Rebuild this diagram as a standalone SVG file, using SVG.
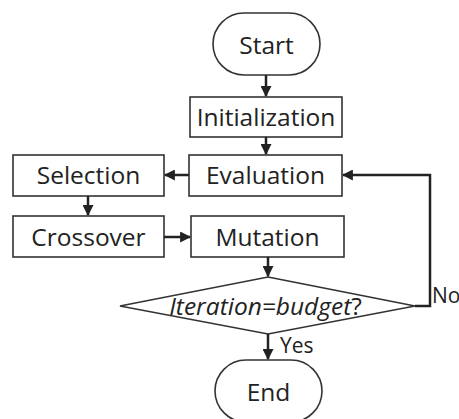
<svg xmlns="http://www.w3.org/2000/svg" width="459" height="419" viewBox="0 0 459 419">
<defs>
<style>
.box{fill:#fff;stroke:#333;stroke-width:1.6}
.t{font-family:"Open Sans","Noto Sans",sans-serif;font-size:24.5px;fill:#222;text-anchor:middle}
.s{font-family:"Open Sans","Noto Sans",sans-serif;font-size:21px;fill:#222;text-anchor:start}
.c{fill:none;stroke:#222;stroke-width:2.5}
</style>
<marker id="ah" viewBox="0 0 10 10" refX="9" refY="5" markerWidth="4.4" markerHeight="4.4" orient="auto" markerUnits="strokeWidth">
<path d="M0,0 L10,5 L0,10 z" fill="#222"/>
</marker>
</defs>
<rect width="459" height="419" fill="#fff"/>
<g id="start"><rect class="box" x="213" y="13" width="107" height="62" rx="31"/><text class="t" x="266.5" y="54">Start</text></g>
<g id="init"><rect class="box" x="190" y="97" width="152" height="40"/><text class="t" x="266" y="126">Initialization</text></g>
<g id="eval"><rect class="box" x="189" y="155" width="153" height="41"/><text class="t" x="265.5" y="184">Evaluation</text></g>
<g id="sel"><rect class="box" x="13" y="155" width="151" height="41"/><text class="t" x="88.5" y="184">Selection</text></g>
<g id="cross"><rect class="box" x="13" y="216" width="151" height="41"/><text class="t" x="88.5" y="245.5">Crossover</text></g>
<g id="mut"><rect class="box" x="191" y="216" width="153" height="41"/><text class="t" x="267.5" y="245.5">Mutation</text></g>
<g id="cond"><polygon class="box" points="268,277 415,306 268,334 120,306"/><text class="t" x="265.5" y="315"><tspan font-style="italic">Iteration=budget</tspan>?</text></g>
<g id="end"><rect class="box" x="215" y="360" width="107" height="62" rx="31"/><text class="t" x="268.5" y="401">End</text></g>
<g id="connectors">
<line class="c" x1="266" y1="75" x2="266" y2="96" marker-end="url(#ah)"/>
<line class="c" x1="266" y1="137" x2="266" y2="154" marker-end="url(#ah)"/>
<line class="c" x1="189" y1="175" x2="165" y2="175" marker-end="url(#ah)"/>
<line class="c" x1="88" y1="196" x2="88" y2="215" marker-end="url(#ah)"/>
<line class="c" x1="164" y1="237" x2="190" y2="237" marker-end="url(#ah)"/>
<line class="c" x1="268" y1="257" x2="268" y2="276" marker-end="url(#ah)"/>
<line class="c" x1="268" y1="334" x2="268" y2="359" marker-end="url(#ah)"/>
<polyline class="c" points="415,306 430,306 430,175 343,175" marker-end="url(#ah)"/>
<text class="s" x="432" y="303">No</text>
<text class="s" x="280" y="353">Yes</text>
</g>
</svg>
